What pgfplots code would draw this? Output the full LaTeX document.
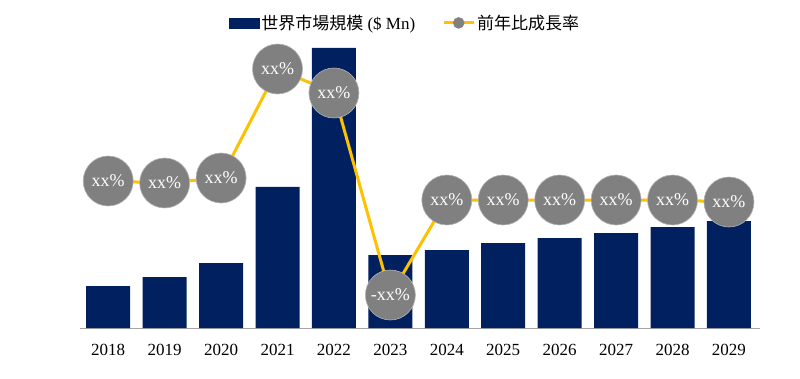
\documentclass[border=0pt]{standalone}
\usepackage{pgfplots}
\pgfplotsset{compat=1.18}
\usepackage{fontspec}
\setmainfont{Liberation Serif}
\newfontfamily\jp{Noto Sans CJK JP}
\definecolor{navy}{RGB}{0,32,96}
\definecolor{gold}{RGB}{255,192,0}
\definecolor{circ}{RGB}{128,128,128}
\begin{document}
\begin{tikzpicture}
\useasboundingbox (0,0) rectangle (800pt,378pt);
\begin{axis}[
  at={(80pt,50pt)}, anchor=south west,
  scale only axis, width=680pt, height=300pt,
  xmin=-0.5, xmax=11.55, ymin=0, ymax=300,
  axis y line=none, axis x line*=bottom,
  x axis line style={draw=black!35, line width=1pt},
  xtick={0,...,11},
  xticklabels={2018,2019,2020,2021,2022,2023,2024,2025,2026,2027,2028,2029},
  major tick length=0pt,
  xticklabel style={font=\fontsize{17}{20}\selectfont, yshift=-13pt},
  clip=false,
  legend style={at={(axis description cs:0.478,1.017)}, anchor=center, draw=none, fill=none,
    font=\fontsize{17}{20}\selectfont, legend columns=2,
    /tikz/every even column/.append style={column sep=25pt}},
  legend cell align=left,
]
\addlegendimage{legend image code/.code={\fill[navy] (0pt,-5pt) rectangle (30pt,5pt);}}
\addlegendentry{{\jp 世界市場規模} (\$ Mn)}
\addlegendimage{legend image code/.code={\draw[gold,line width=3pt] (0pt,0pt)--(30pt,0pt); \fill[circ] (15pt,0pt) circle (5.5pt);}}
\addlegendentry{\jp 前年比成長率}

\addplot[ybar, bar width=44pt, bar shift=0pt, fill=navy, draw=none, forget plot]
  coordinates {(0,42)(1,51)(2,65)(3,141)(4,280)(5,73)(6,78)(7,85)(8,90)(9,95)(10,101)(11,107)};

\addplot[gold, line width=3pt, mark=*, mark size=25pt,
  mark options={fill=circ, draw=white!40!circ, line width=0.6pt},
  nodes near coords, point meta=explicit symbolic,
  every node near coord/.style={anchor=center, text=white, font=\fontsize{18}{20}\selectfont},
  forget plot]
  coordinates {(0,147) [xx\%] (1,145) [xx\%] (2,150) [xx\%] (3,259) [xx\%] (4,235) [xx\%]
    (5,33) [-xx\%] (6,128) [xx\%] (7,128) [xx\%] (8,128) [xx\%] (9,128) [xx\%]
    (10,128) [xx\%] (11,126) [xx\%]};
\end{axis}
\end{tikzpicture}
\end{document}
